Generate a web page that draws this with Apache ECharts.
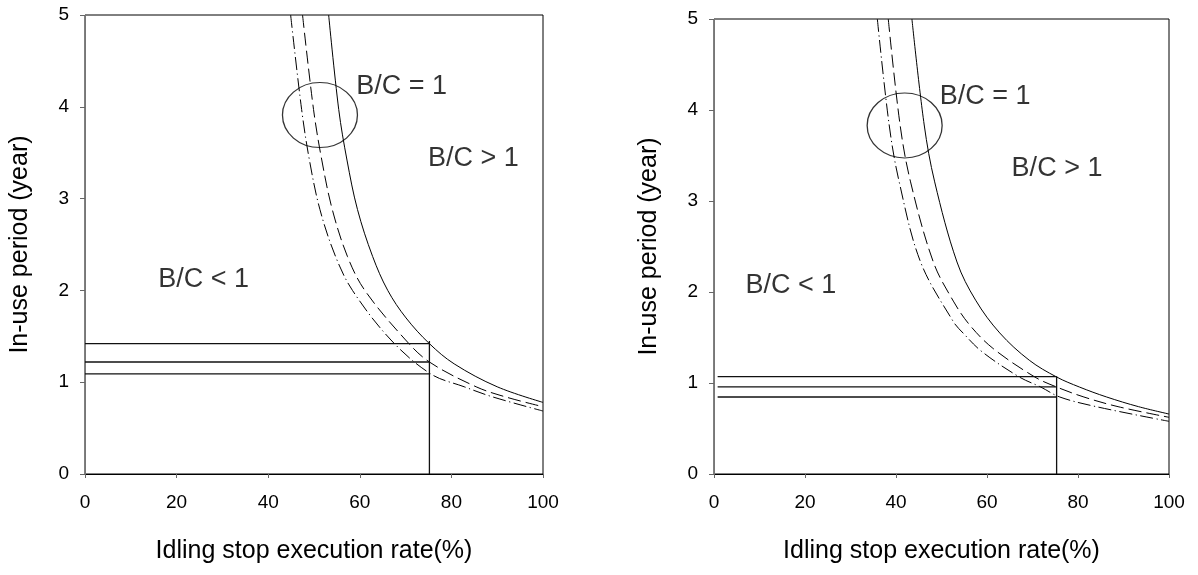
<!DOCTYPE html>
<html>
<head>
<meta charset="utf-8">
<script src="https://cdn.jsdelivr.net/npm/echarts@6/dist/echarts.min.js"></script>
<style>
  html, body { margin: 0; padding: 0; background: #fff; }
  #chart { width: 1198px; height: 575px; }
</style>
</head>
<body>
<div id="chart"></div>
<script>
// ---- Axis ticks ----
const xTicks = [0, 20, 40, 60, 80, 100];
const yTicks = [0, 1, 2, 3, 4, 5];

// ---- Left panel: B/C = 1 break-even curves ----
const leftSolidX   = [53.2, 55.4, 57.2, 59.5, 62.8, 66.1, 70.1, 75.2, 80.6, 90.0, 100];
const leftSolidY   = [5, 3.97, 3.42, 2.88, 2.37, 2.0, 1.70, 1.42, 1.20, 0.95, 0.78];
const leftDashX    = [47.5, 49.9, 51.7, 54.0, 57.3, 61.1, 70.0, 75.2, 85.4, 91.8, 100];
const leftDashY    = [5, 3.97, 3.42, 2.88, 2.37, 2.0, 1.46, 1.22, 0.95, 0.84, 0.733];
const leftDotDashX = [44.9, 47.3, 49.0, 51.3, 54.7, 58.4, 66.8, 75.5, 82.8, 89.0, 100];
const leftDotDashY = [5, 3.97, 3.42, 2.88, 2.37, 2.0, 1.46, 1.09, 0.95, 0.84, 0.686];
// reference levels at 75% execution rate
const leftRate     = 75.2;
const leftLevels   = [1.42, 1.22, 1.09];
const leftRateTop  = 1.45;
const leftCircle   = [51.3, 3.91];

// ---- Right panel ----
const rightSolidX   = [43.5, 46.2, 48.5, 53.4, 57.5, 62.8, 69.3, 75.3, 80.3, 86.3, 93.3, 100];
const rightSolidY   = [5, 3.835, 3.21, 2.33, 1.91, 1.55, 1.25, 1.066, 0.956, 0.846, 0.74, 0.659];
const rightDashX    = [38.3, 40.9, 43.2, 48.2, 52.6, 56.2, 61.3, 70.5, 75.3, 81.3, 88.8, 100];
const rightDashY    = [5, 3.835, 3.21, 2.33, 1.9, 1.637, 1.381, 1.066, 0.956, 0.846, 0.74, 0.623];
const rightDotDashX = [35.9, 38.5, 40.7, 45.4, 52.6, 54.8, 58.9, 67.1, 71.8, 76.0, 84.0, 100];
const rightDotDashY = [5, 3.835, 3.21, 2.33, 1.674, 1.546, 1.344, 1.066, 0.956, 0.846, 0.74, 0.579];
const rightRate     = 75.3;
const rightLevels   = [1.07, 0.957, 0.846];
const rightRateTop  = 1.075;
const rightLevelStart = 0.8;
const rightCircle   = [41.9, 3.83];

// ---- Region annotations (text, x, y in data units) ----
const leftNotes  = [['B/C = 1', 59.1, 4.22], ['B/C > 1', 74.8, 3.44], ['B/C < 1', 15.9, 2.12]];
const rightNotes = [['B/C = 1', 49.5, 4.15], ['B/C > 1', 65.3, 3.36], ['B/C < 1', 6.8, 2.07]];

const xTitle = 'Idling stop execution rate(%)';
const yTitle = 'In-use period (year)';

const FONT = '"Liberation Sans", Arial, sans-serif';
const zip = (xs, ys) => xs.map((x, i) => [x, ys[i]]);

function axesFor(idx) {
  const x = {
    type: 'value', gridIndex: idx, min: xTicks[0], max: xTicks[xTicks.length - 1],
    interval: xTicks[1] - xTicks[0],
    name: xTitle, nameLocation: 'middle', nameGap: 65,
    nameTextStyle: { fontFamily: FONT, fontSize: 25, color: '#000' },
    axisLine: { show: true, lineStyle: { color: '#000', width: 1 } },
    axisTick: { show: true, inside: false, length: 4, lineStyle: { color: '#666' } },
    axisLabel: { margin: 19, fontFamily: FONT, fontSize: 19, color: '#000' },
    splitLine: { show: false }
  };
  const y = {
    type: 'value', gridIndex: idx, min: yTicks[0], max: yTicks[yTicks.length - 1],
    interval: yTicks[1] - yTicks[0],
    name: yTitle, nameLocation: 'middle', nameGap: 52,
    nameTextStyle: { fontFamily: FONT, fontSize: 25, color: '#000' },
    axisLine: { show: true, lineStyle: { color: '#777', width: 1 } },
    axisTick: { show: true, inside: false, length: 5, lineStyle: { color: '#666' } },
    axisLabel: { margin: 16, fontFamily: FONT, fontSize: 19, color: '#000' },
    splitLine: { show: false }
  };
  return [x, y];
}

function panelSeries(idx, p) {
  const base = { xAxisIndex: idx, yAxisIndex: idx, silent: true, animation: false };
  const curve = (xs, ys, type) => Object.assign({}, base, {
    type: 'line', data: zip(xs, ys), showSymbol: false, symbol: 'none',
    smooth: 0.35,
    lineStyle: { color: '#000', width: 1, type: type }
  });
  const out = [
    curve(p.solidX, p.solidY, 'solid'),
    curve(p.dashX, p.dashY, [13, 5]),
    curve(p.dotDashX, p.dotDashY, [13, 3.5, 1.2, 3.5])
  ];
  p.levels.forEach(lv => {
    out.push(Object.assign({}, base, {
      type: 'line', data: [[p.levelStart, lv], [p.rate, lv]], symbol: 'none',
      lineStyle: { color: '#111', width: 1.3 }
    }));
  });
  out.push(Object.assign({}, base, {
    type: 'line', data: [[p.rate, 0], [p.rate, p.rateTop]], symbol: 'none',
    lineStyle: { color: '#111', width: 1.3 }
  }));
  // ring around the B/C = 1 band
  out.push(Object.assign({}, base, {
    type: 'scatter', data: [p.circle], symbol: 'circle', symbolSize: [75, 65],
    itemStyle: { color: 'rgba(0,0,0,0)', borderColor: '#000', borderWidth: 1.2 }
  }));
  // region labels
  out.push(Object.assign({}, base, {
    type: 'scatter', symbolSize: 1, itemStyle: { color: 'rgba(0,0,0,0)' },
    data: p.notes.map(n => ({ value: [n[1], n[2]], name: n[0] })),
    label: {
      show: true, position: 'right', distance: 0, formatter: '{b}',
      fontFamily: FONT, fontSize: 27, color: '#000'
    }
  }));
  return out;
}

const [lx, ly] = axesFor(0);
const [rx, ry] = axesFor(1);

const option = {
  backgroundColor: '#fff',
  animation: false,
  grid: [
    { left: 85, top: 15, width: 458, height: 459, show: true, borderColor: '#000', borderWidth: 1, backgroundColor: 'transparent' },
    { left: 714, top: 19, width: 455, height: 455, show: true, borderColor: '#000', borderWidth: 1, backgroundColor: 'transparent' }
  ],
  xAxis: [lx, rx],
  yAxis: [ly, ry],
  series: [].concat(
    panelSeries(0, {
      solidX: leftSolidX, solidY: leftSolidY, dashX: leftDashX, dashY: leftDashY,
      dotDashX: leftDotDashX, dotDashY: leftDotDashY, levels: leftLevels,
      levelStart: 0, rate: leftRate, rateTop: leftRateTop, circle: leftCircle, notes: leftNotes
    }),
    panelSeries(1, {
      solidX: rightSolidX, solidY: rightSolidY, dashX: rightDashX, dashY: rightDashY,
      dotDashX: rightDotDashX, dotDashY: rightDotDashY, levels: rightLevels,
      levelStart: rightLevelStart, rate: rightRate, rateTop: rightRateTop, circle: rightCircle, notes: rightNotes
    })
  )
};

const chart = echarts.init(document.getElementById('chart'), null, { renderer: 'canvas' });
chart.setOption(option);
</script>
</body>
</html>
